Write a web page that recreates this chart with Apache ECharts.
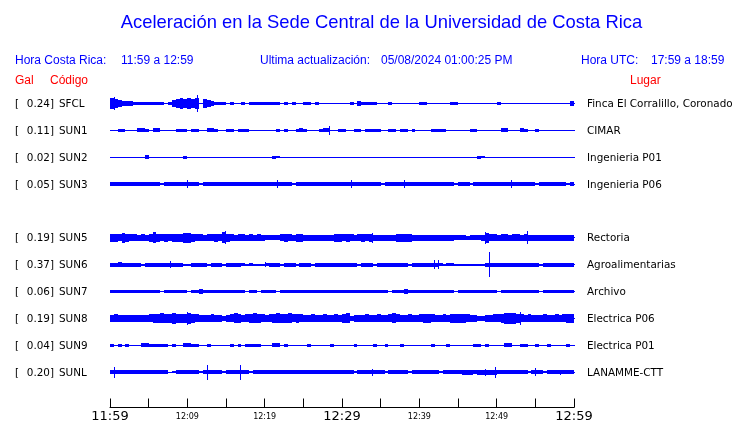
<!DOCTYPE html>
<html><head><meta charset="utf-8">
<script src="https://cdn.jsdelivr.net/npm/echarts@6/dist/echarts.min.js"></script>
<style>html,body{margin:0;padding:0;background:#fff}#c{width:740px;height:423px}</style>
</head><body><div id="c"></div>
<script>
// ---- data ----
const stations = ['SFCL','SUN1','SUN2','SUN3','SUN5','SUN6','SUN7','SUN8','SUN9','SUNL'];
const galPeak  = ['0.24','0.11','0.02','0.05','0.19','0.37','0.06','0.19','0.04','0.20'];
const places   = ['Finca El Corralillo, Coronado','CIMAR','Ingenieria P01','Ingenieria P06','Rectoria','Agroalimentarias','Archivo','Electrica P06','Electrica P01','LANAMME-CTT'];
const tickLabels = ['11:59','12:09','12:19','12:29','12:39','12:49','12:59'];
const binMinutes = 0.5; // 120 bins of 30 s over 60 min
// envelope half-amplitude per 30 s bin (centigal)
const envSFCL = [14,11,8,7,6,6,4,4,4,4, 4,4,4,4,0,4,8,11,14,12, 14,12,14,0,11,9,6,4,4,3, 0,3,0,0,2,0,3,3,3,3,
  2,3,3,3,0,2,0,3,0,0, 3,3,0,3,0,0,0,0,0,0, 0,0,2,0,5,4,3,3,3,0, 0,0,3,0,0,0,0,0,0,0,
  4,4,0,0,0,0,0,0,2,2, 0,0,0,0,0,0,0,0,0,0, 3,0,0,0,0,0,0,0,0,0, 0,0,0,0,0,0,0,0,0,7];
const envSUN1 = [0,0,3,3,0,0,0,4,4,3, 0,4,4,0,0,0,0,3,3,3, 0,3,3,0,0,4,4,3,0,0, 3,3,0,2,3,3,0,0,0,0,
  0,0,0,3,0,3,0,0,3,4, 3,0,0,0,3,4,4,0,0,2, 3,0,0,3,3,0,3,3,3,3, 0,0,3,3,0,2,3,0,2,0,
  0,0,0,2,3,3,3,0,0,0, 0,0,0,3,3,0,0,0,0,0, 0,4,4,0,0,0,4,3,0,0, 2,0,0,0,0,0,0,0,0,0];
const envSUN2 = [0,0,0,0,0,0,0,0,0,4, 0,0,0,0,0,0,0,0,0,3, 0,0,0,0,0,0,0,0,0,0, 0,0,0,0,0,0,0,0,0,0,
  0,0,3,2,0,0,0,0,0,0, 0,0,0,0,0,0,0,0,0,0, 0,0,0,0,0,0,0,0,0,0, 0,0,0,0,0,0,0,0,0,0,
  0,0,0,0,0,0,0,0,0,0, 0,0,0,0,0,3,2,0,0,0, 0,0,0,0,0,0,0,0,0,0, 0,0,0,0,0,0,0,0,0,0];
const envSUN3 = [4,4,4,4,4,4,4,4,4,4, 4,4,4,1,4,4,4,4,4,4, 4,4,4,1,4,4,4,4,4,4, 4,4,4,4,4,4,4,4,4,4,
  4,4,4,4,4,4,4,1,4,4, 4,4,4,4,4,4,4,4,4,4, 4,4,4,4,4,4,4,4,4,4, 1,4,4,4,4,4,4,4,4,4,
  4,4,4,4,4,4,4,4,4,1, 4,4,4,1,4,4,4,4,4,4, 4,4,4,4,4,4,4,4,4,4, 1,4,4,4,4,4,4,4,1,4];
const envSUN5 = [10,11,9,12,10,9,9,8,9,8, 10,14,10,9,10,9,10,11,10,13, 13,10,9,9,8,9,9,10,9,14, 10,9,8,9,9,8,9,8,9,8,
  6,6,6,6,9,10,9,8,10,11, 7,8,7,8,7,8,7,8,10,10, 9,10,9,8,9,10,9,11,8,8, 8,7,8,8,10,10,10,10,8,7,
  8,7,8,8,7,8,7,8,7,6, 6,6,5,6,6,6,7,13,9,9, 8,9,9,8,9,9,8,9,8,7, 8,7,8,7,8,7,8,8,7,8];
const envSUN6 = [4,4,5,4,4,4,4,4,1,4, 4,4,4,4,4,4,4,4,4,1, 1,4,4,4,4,1,4,4,4,1, 4,4,4,4,3,1,3,1,1,1,
  3,4,4,4,1,4,4,4,1,4, 4,4,1,4,4,4,4,4,4,4, 4,4,4,4,1,4,4,4,1,4, 4,4,4,4,4,4,4,1,4,4,
  4,4,4,4,4,3,1,3,3,1, 1,1,2,1,1,1,1,4,4,4, 4,4,4,4,4,4,4,4,4,4, 4,1,4,4,4,4,4,4,4,4];
const envSUN7 = [4,4,4,4,4,4,4,4,4,4, 4,4,4,1,4,4,4,4,4,4, 1,4,4,6,4,4,4,4,4,4, 4,4,4,4,4,1,4,4,1,4,
  4,4,4,1,4,4,4,4,4,4, 4,4,4,4,4,4,4,4,4,4, 4,4,4,4,4,4,4,4,4,4, 4,4,1,4,4,4,6,4,4,4,
  4,4,4,4,4,4,4,4,4,1, 4,4,4,4,4,4,4,4,4,4, 1,4,4,4,4,4,4,4,4,4, 4,1,4,4,4,4,4,4,4,4];
const envSUN8 = [9,10,9,8,9,9,8,9,8,9, 10,11,11,13,11,12,14,12,11,12, 14,11,10,9,9,9,10,9,8,6, 9,10,13,11,9,10,11,13,11,10,
  9,10,12,13,11,12,13,10,11,10, 9,9,10,9,9,10,9,9,10,9, 11,13,7,8,9,9,10,9,9,10, 9,9,10,13,10,9,9,10,9,9,
  10,11,12,10,9,9,10,9,11,12, 12,12,10,9,9,7,7,8,9,10, 10,11,14,14,14,11,10,9,10,9, 9,9,10,9,9,10,9,10,11,12];
const envSUN9 = [3,0,3,0,3,0,0,0,4,4, 3,3,3,3,3,0,3,0,0,4, 4,3,3,0,0,3,0,0,0,0, 0,3,0,3,0,3,3,3,3,0,
  0,0,4,4,0,3,0,0,0,0, 0,3,0,0,0,0,0,3,0,0, 0,0,0,2,0,0,0,0,3,0, 0,3,0,0,0,3,0,0,0,0,
  0,0,0,3,0,0,0,2,0,0, 0,0,0,0,3,3,0,3,0,0, 0,0,4,4,0,0,3,3,0,0, 3,0,0,2,0,0,0,0,3,0];
const envSUNL = [4,4,4,4,4,4,4,4,4,4, 4,4,4,4,4,0,1,4,4,4, 4,4,4,1,4,4,4,4,4,1, 4,4,4,4,4,4,1,4,4,4,
  4,4,4,4,4,4,4,4,4,4, 4,4,4,4,4,4,4,4,4,4, 4,4,4,1,4,4,4,4,4,4, 4,1,4,4,4,4,4,1,4,4,
  4,4,4,4,4,1,4,4,4,4, 4,6,6,6,5,6,6,6,6,6, 5,4,4,4,4,4,4,4,1,4, 4,4,1,4,4,4,4,4,4,4];
// isolated peaks [minute, half-amplitude centigal]
const pkSFCL = [[0.5,16],[11.25,23]];
const pkSUN1 = [[28.3,11]];
const pkSUN2 = [];
const pkSUN3 = [[9.96,9],[21.6,9],[31.2,9],[38.0,9],[51.9,9]];
const pkSUN5 = [[5.6,14],[14.9,17],[33.9,12],[48.5,16],[53.9,17]];
const pkSUN6 = [[7.8,8],[20.0,6],[41.9,11],[42.4,11],[49.05,34]];
const pkSUN7 = [];
const pkSUN8 = [[10.0,18],[53.0,17]];
const pkSUN9 = [];
const pkSUNL = [[0.5,14],[12.6,20],[16.8,20],[33.9,9],[48.5,9],[49.8,14],[55.0,10],[58.2,6]];

const envelopes = [envSFCL,envSUN1,envSUN2,envSUN3,envSUN5,envSUN6,envSUN7,envSUN8,envSUN9,envSUNL];
const peaks = [pkSFCL,pkSUN1,pkSUN2,pkSUN3,pkSUN5,pkSUN6,pkSUN7,pkSUN8,pkSUN9,pkSUNL];

// ---- layout ----
const rowOf = [0,1,2,3,5,6,7,8,9,10];  // one empty row between SUN3 and SUN5
const AMP = 0.35 / 27;                  // centigal -> row units
const BLUE = '#0000ff';
const SANS = '"Liberation Sans", Arial, sans-serif';
const DJ = '"DejaVu Sans", sans-serif';
const LBL = '10.4px ' + DJ;

const bandData = [], peakData = [], rowData = [];
envelopes.forEach((env, s) => {
  env.forEach((v, i) => bandData.push([i*binMinutes, (i+1)*binMinutes, rowOf[s], v]));
  peaks[s].forEach(p => peakData.push([p[0], rowOf[s], p[1]]));
  rowData.push([0, 60, rowOf[s], s]);
});

function renderBand(params, api) {
  const v = api.value(3);
  if (!v) return null;
  const row = api.value(2), a = v * AMP;
  const p0 = api.coord([api.value(0), row - a]);
  const p1 = api.coord([api.value(1), row + a]);
  const x0 = Math.round(p0[0]), x1 = Math.round(p1[0]);
  const y0 = Math.round(p0[1]), y1 = Math.round(p1[1]) + 1;
  return {type:'rect', shape:{x:x0, y:y0, width:x1-x0, height:y1-y0}, style:{fill:BLUE}};
}
function renderPeak(params, api) {
  const t = api.value(0), row = api.value(1), a = api.value(2) * AMP;
  const p0 = api.coord([t, row - a]), p1 = api.coord([t, row + a]);
  const x = Math.round(p0[0]);
  const y0 = Math.round(p0[1]), y1 = Math.round(p1[1]) + 1;
  return {type:'rect', shape:{x:x, y:y0, width:1, height:y1-y0}, style:{fill:BLUE}};
}
function renderRow(params, api) {
  const row = api.value(2), s = api.value(3);
  const p0 = api.coord([api.value(0), row]), p1 = api.coord([api.value(1), row]);
  const y = Math.round(p0[1]);
  const xl = Math.round(p0[0]), xr = Math.round(p1[0]);
  return {type:'group', children:[
    {type:'rect', shape:{x:xl, y:y, width:xr-xl+1, height:1}, style:{fill:BLUE}},
    {type:'text', x:xl-95, y:y+1, style:{text:'[', fill:'#000', font:LBL, verticalAlign:'middle', align:'left'}},
    {type:'text', x:xl-56, y:y+1, style:{text:galPeak[s]+']', fill:'#000', font:LBL, verticalAlign:'middle', align:'right'}},
    {type:'text', x:xl-51, y:y+1, style:{text:stations[s], fill:'#000', font:LBL, verticalAlign:'middle', align:'left'}},
    {type:'text', x:xr+13, y:y+1, style:{text:places[s], fill:'#000', font:LBL, verticalAlign:'middle', align:'left'}}
  ]};
}

const chart = echarts.init(document.getElementById('c'), null, {renderer:'canvas'});
chart.setOption({
  animation:false,
  backgroundColor:'#fff',
  grid:{left:110, right:166, top:103, bottom:14, containLabel:false},
  xAxis:{type:'value', min:0, max:60, interval:5, position:'bottom',
    axisLine:{show:true, onZero:false, lineStyle:{color:'#000', width:1}},
    axisTick:{show:true, inside:true, length:9, lineStyle:{color:'#000', width:1}},
    splitLine:{show:false},
    axisLabel:{show:true, margin:2, showMinLabel:true, showMaxLabel:true, hideOverlap:false,
      formatter:(v)=>{
        if (v % 10 !== 0) return '';
        const lab = tickLabels[v/10];
        return (v % 30 === 0) ? '{big|'+lab+'}' : '{small|'+lab+'}';
      },
      rich:{
        big:{fontSize:13, fontFamily:DJ, color:'#000', lineHeight:14},
        small:{fontSize:8, fontFamily:DJ, color:'#000', lineHeight:14}
      }}
  },
  yAxis:{type:'value', min:0, max:34/3, inverse:true, show:false},
  graphic:[
    {type:'text', x:381.5, y:23, style:{text:'Aceleración en la Sede Central de la Universidad de Costa Rica', fill:BLUE, font:'18.4px '+SANS, verticalAlign:'middle', align:'center'}},
    {type:'text', x:15, y:61, style:{text:'Hora Costa Rica:', fill:BLUE, font:'12px '+SANS, verticalAlign:'middle'}},
    {type:'text', x:121, y:61, style:{text:'11:59 a 12:59', fill:BLUE, font:'12px '+SANS, verticalAlign:'middle'}},
    {type:'text', x:260, y:61, style:{text:'Ultima actualización:', fill:BLUE, font:'12px '+SANS, verticalAlign:'middle'}},
    {type:'text', x:381, y:61, style:{text:'05/08/2024 01:00:25 PM', fill:BLUE, font:'12px '+SANS, verticalAlign:'middle'}},
    {type:'text', x:581, y:61, style:{text:'Hora UTC:', fill:BLUE, font:'12px '+SANS, verticalAlign:'middle'}},
    {type:'text', x:651, y:61, style:{text:'17:59 a 18:59', fill:BLUE, font:'12px '+SANS, verticalAlign:'middle'}},
    {type:'text', x:15, y:81, style:{text:'Gal', fill:'#ff0000', font:'12px '+SANS, verticalAlign:'middle'}},
    {type:'text', x:50, y:81, style:{text:'Código', fill:'#ff0000', font:'12px '+SANS, verticalAlign:'middle'}},
    {type:'text', x:630, y:81, style:{text:'Lugar', fill:'#ff0000', font:'12px '+SANS, verticalAlign:'middle'}}
  ],
  series:[
    {type:'custom', name:'rows', data:rowData, renderItem:renderRow, clip:false, silent:true, encode:{x:[0,1], y:2}},
    {type:'custom', name:'envelope', data:bandData, renderItem:renderBand, clip:false, silent:true, encode:{x:[0,1], y:2}},
    {type:'custom', name:'peaks', data:peakData, renderItem:renderPeak, clip:false, silent:true, encode:{x:0, y:1}}
  ]
});
</script>
</body></html>
